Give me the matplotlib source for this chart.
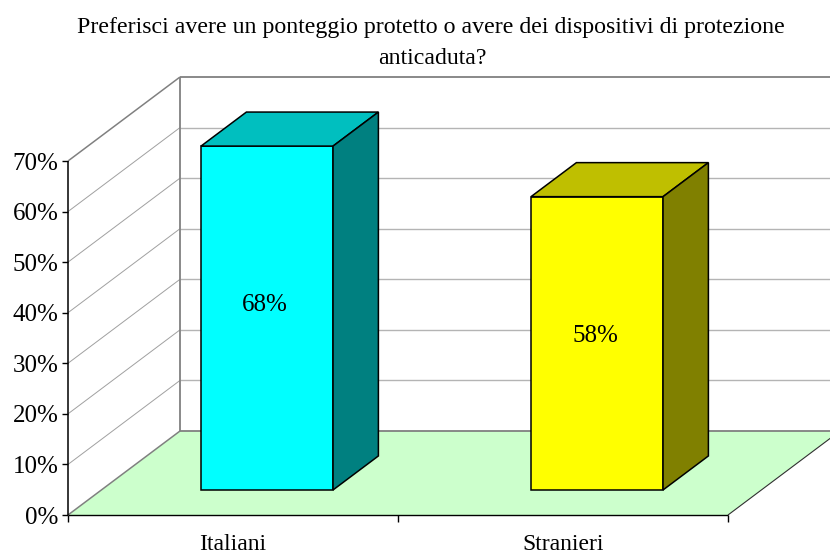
import matplotlib
matplotlib.use("Agg")
import matplotlib.pyplot as plt
from matplotlib.patches import Polygon

categories = ["Italiani", "Stranieri"]
values = [68, 58]
labels = ["68%", "58%"]
y_ticks = [0, 10, 20, 30, 40, 50, 60, 70]
colors = [("#00FFFF", "#00BFBF", "#008080"), ("#FFFF00", "#BFBF00", "#808000")]
floor_color = "#CCFFCC"

W, H = 830, 554
DPI = 100
plt.rcParams["font.family"] = ["Liberation Serif", "DejaVu Serif"]
fig = plt.figure(figsize=(W / DPI, H / DPI), dpi=DPI, facecolor="white")
L, R, T, B = 68, 728, 161, 515
ax = fig.add_axes([L / W, 1 - B / H, (R - L) / W, (B - T) / H])
ax.set_xlim(0, 2)
ax.set_ylim(0, 70)
ax.patch.set_visible(False)
for s in ax.spines.values():
    s.set_visible(False)

# depth vector of the whole chart, in data units
DX = 112 / (R - L) * 2
DY = 84 / (B - T) * 70
YMAX = 70
GREY = "#808080"
LIGHT = "#B4B4B4"

def d(x, y, t):
    return (x + DX * t, y + DY * t)

def seg(a, b, **kw):
    ax.plot(*zip(a, b), clip_on=False, solid_capstyle="butt", **kw)

# floor
ax.add_patch(Polygon([d(0, 0, 0), d(2, 0, 0), d(2, 0, 1), d(0, 0, 1)], closed=True,
                     fc=floor_color, ec="none", clip_on=False, zorder=1))

# walls and gridlines
for v in y_ticks[1:-1]:
    seg(d(0, v, 0), d(0, v, 1), color="#A0A0A0", lw=0.7, zorder=2)
    seg(d(0, v, 1), d(2, v, 1), color=LIGHT, lw=1.0, zorder=2)
seg(d(0, YMAX, 0), d(0, YMAX, 1), color=GREY, lw=1.1, zorder=2)
seg(d(0, YMAX, 1), d(2, YMAX, 1), color=GREY, lw=1.3, zorder=2)
seg(d(0, 0, 0), d(0, 0, 1), color=GREY, lw=1.1, zorder=2)
seg(d(0, 0, 1), d(2, 0, 1), color=GREY, lw=1.3, zorder=2)
seg(d(0, 0, 1), d(0, YMAX, 1), color=GREY, lw=1.3, zorder=2)
seg(d(2, 0, 0), d(2, 0, 1), color="#303030", lw=0.8, zorder=2)

# bars
BAR_W = 0.4
BAR_SHIFT = 0.002
BAR_T0, BAR_T1 = 0.298, 0.703
LABEL_FRAC = 0.61
LABEL_SHIFT = -0.004
for i, (v, lab) in enumerate(zip(values, labels)):
    x0, x1 = i + 0.5 + BAR_SHIFT - BAR_W / 2, i + 0.5 + BAR_SHIFT + BAR_W / 2
    front, top, side = colors[i]
    kw = dict(closed=True, ec="black", lw=1.1, clip_on=False, zorder=4, joinstyle="miter")
    ax.add_patch(Polygon([d(x0, 0, BAR_T0), d(x1, 0, BAR_T0), d(x1, v, BAR_T0), d(x0, v, BAR_T0)], fc=front, **kw))
    ax.add_patch(Polygon([d(x0, v, BAR_T0), d(x1, v, BAR_T0), d(x1, v, BAR_T1), d(x0, v, BAR_T1)], fc=top, **kw))
    ax.add_patch(Polygon([d(x1, 0, BAR_T0), d(x1, v, BAR_T0), d(x1, v, BAR_T1), d(x1, 0, BAR_T1)], fc=side, **kw))
    cx, _ = d(i + 0.5 + LABEL_SHIFT, 0, BAR_T0)
    ax.text(cx, v * LABEL_FRAC, lab, ha="center", va="center", fontsize=18, color="black", zorder=5)

# axes
seg((0, 0), (2, 0), color="black", lw=1.0, zorder=3)
seg((0, 0), (0, 70), color="black", lw=1.1, zorder=3)
ax.set_xticks([0, 1, 2], minor=False)
ax.set_xticklabels([])
ax.set_xticks([0.5, 1.5], minor=True)
ax.set_xticklabels(categories, minor=True, fontsize=17)
ax.tick_params(axis="x", which="major", length=5, width=1.0, color="black")
ax.tick_params(axis="x", which="minor", length=0, pad=13.5)
ax.set_yticks(y_ticks)
ax.set_yticklabels([f"{v}%" for v in y_ticks], fontsize=18)
ax.tick_params(axis="y", length=4, width=1.0, color="black", pad=3)

fig.text(431 / W, 1 - 27.5 / H, "Preferisci avere un ponteggio protetto o avere dei dispositivi di protezione",
         ha="center", va="center", fontsize=17.2)
fig.text(432 / W, 1 - 59 / H, "anticaduta?", ha="center", va="center", fontsize=17.2)

fig.savefig("out.png", dpi=DPI, facecolor="white")
